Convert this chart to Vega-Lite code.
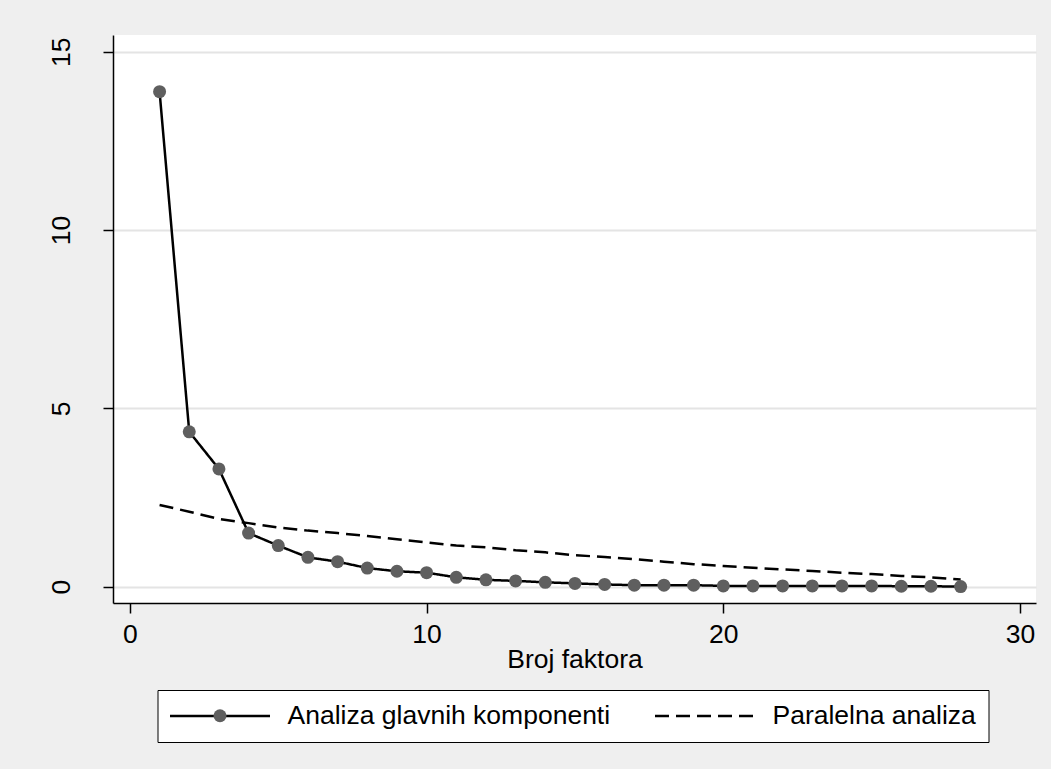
{
  "$schema": "https://vega.github.io/schema/vega-lite/v6.json",
  "width": 923,
  "height": 568,
  "autosize": {"type": "none"},
  "padding": {"left": 113, "top": 35, "right": 15, "bottom": 166},
  "background": "#efefef",
  "config": {
    "view": {"fill": "white", "stroke": null},
    "font": "Liberation Sans"
  },
  "data": {
    "values": [
      {"k": 1, "value": 13.88, "series": "Analiza glavnih komponenti"},
      {"k": 2, "value": 4.34, "series": "Analiza glavnih komponenti"},
      {"k": 3, "value": 3.30, "series": "Analiza glavnih komponenti"},
      {"k": 4, "value": 1.50, "series": "Analiza glavnih komponenti"},
      {"k": 5, "value": 1.15, "series": "Analiza glavnih komponenti"},
      {"k": 6, "value": 0.82, "series": "Analiza glavnih komponenti"},
      {"k": 7, "value": 0.70, "series": "Analiza glavnih komponenti"},
      {"k": 8, "value": 0.52, "series": "Analiza glavnih komponenti"},
      {"k": 9, "value": 0.43, "series": "Analiza glavnih komponenti"},
      {"k": 10, "value": 0.39, "series": "Analiza glavnih komponenti"},
      {"k": 11, "value": 0.26, "series": "Analiza glavnih komponenti"},
      {"k": 12, "value": 0.19, "series": "Analiza glavnih komponenti"},
      {"k": 13, "value": 0.16, "series": "Analiza glavnih komponenti"},
      {"k": 14, "value": 0.12, "series": "Analiza glavnih komponenti"},
      {"k": 15, "value": 0.09, "series": "Analiza glavnih komponenti"},
      {"k": 16, "value": 0.06, "series": "Analiza glavnih komponenti"},
      {"k": 17, "value": 0.04, "series": "Analiza glavnih komponenti"},
      {"k": 18, "value": 0.04, "series": "Analiza glavnih komponenti"},
      {"k": 19, "value": 0.04, "series": "Analiza glavnih komponenti"},
      {"k": 20, "value": 0.02, "series": "Analiza glavnih komponenti"},
      {"k": 21, "value": 0.02, "series": "Analiza glavnih komponenti"},
      {"k": 22, "value": 0.02, "series": "Analiza glavnih komponenti"},
      {"k": 23, "value": 0.02, "series": "Analiza glavnih komponenti"},
      {"k": 24, "value": 0.02, "series": "Analiza glavnih komponenti"},
      {"k": 25, "value": 0.02, "series": "Analiza glavnih komponenti"},
      {"k": 26, "value": 0.01, "series": "Analiza glavnih komponenti"},
      {"k": 27, "value": 0.01, "series": "Analiza glavnih komponenti"},
      {"k": 28, "value": 0.0, "series": "Analiza glavnih komponenti"},
      {"k": 1, "value": 2.29, "series": "Paralelna analiza"},
      {"k": 2, "value": 2.10, "series": "Paralelna analiza"},
      {"k": 3, "value": 1.90, "series": "Paralelna analiza"},
      {"k": 4, "value": 1.78, "series": "Paralelna analiza"},
      {"k": 5, "value": 1.66, "series": "Paralelna analiza"},
      {"k": 6, "value": 1.57, "series": "Paralelna analiza"},
      {"k": 7, "value": 1.50, "series": "Paralelna analiza"},
      {"k": 8, "value": 1.42, "series": "Paralelna analiza"},
      {"k": 9, "value": 1.33, "series": "Paralelna analiza"},
      {"k": 10, "value": 1.24, "series": "Paralelna analiza"},
      {"k": 11, "value": 1.15, "series": "Paralelna analiza"},
      {"k": 12, "value": 1.10, "series": "Paralelna analiza"},
      {"k": 13, "value": 1.02, "series": "Paralelna analiza"},
      {"k": 14, "value": 0.96, "series": "Paralelna analiza"},
      {"k": 15, "value": 0.88, "series": "Paralelna analiza"},
      {"k": 16, "value": 0.83, "series": "Paralelna analiza"},
      {"k": 17, "value": 0.77, "series": "Paralelna analiza"},
      {"k": 18, "value": 0.70, "series": "Paralelna analiza"},
      {"k": 19, "value": 0.63, "series": "Paralelna analiza"},
      {"k": 20, "value": 0.58, "series": "Paralelna analiza"},
      {"k": 21, "value": 0.53, "series": "Paralelna analiza"},
      {"k": 22, "value": 0.48, "series": "Paralelna analiza"},
      {"k": 23, "value": 0.44, "series": "Paralelna analiza"},
      {"k": 24, "value": 0.39, "series": "Paralelna analiza"},
      {"k": 25, "value": 0.35, "series": "Paralelna analiza"},
      {"k": 26, "value": 0.30, "series": "Paralelna analiza"},
      {"k": 27, "value": 0.26, "series": "Paralelna analiza"},
      {"k": 28, "value": 0.20, "series": "Paralelna analiza"}
    ]
  },
  "encoding": {
    "x": {
      "field": "k", "type": "quantitative",
      "scale": {"domain": [-0.57, 30.54], "nice": false, "zero": false},
      "axis": {
        "values": [0, 10, 20, 30], "grid": false,
        "domainColor": "black", "domainWidth": 1.5,
        "tickColor": "black", "tickWidth": 1.5, "tickSize": 10,
        "labelFontSize": 26.5, "labelColor": "black", "labelPadding": 8,
        "labelFlush": false, "labelOverlap": false,
        "title": "Broj faktora", "titleFontSize": 26.5, "titleFontWeight": "normal",
        "titleColor": "black", "titleBaseline": "alphabetic", "titleY": 64
      }
    },
    "y": {
      "field": "value", "type": "quantitative",
      "scale": {"domain": [-0.46, 15.47], "nice": false, "zero": false},
      "axis": {
        "values": [0, 5, 10, 15], "grid": true, "gridColor": "#e4e4e4", "gridWidth": 2,
        "domainColor": "black", "domainWidth": 1.5,
        "tickColor": "black", "tickWidth": 1.5, "tickSize": 10,
        "labelFontSize": 26.5, "labelColor": "black",
        "labelAngle": -90, "labelAlign": "center", "labelBaseline": "alphabetic",
        "labelPadding": 34, "labelFlush": false, "labelOverlap": false,
        "title": null
      }
    }
  },
  "layer": [
    {
      "mark": {"type": "line", "color": "black", "strokeWidth": 2.5},
      "encoding": {
        "strokeDash": {
          "field": "series", "type": "nominal",
          "scale": {"domain": ["Analiza glavnih komponenti", "Paralelna analiza"], "range": [[1, 0], [14, 7]]},
          "legend": {
            "orient": "none", "legendX": 44.5, "legendY": 655, "direction": "horizontal",
            "title": null, "padding": 12.5, "strokeColor": "black", "fillColor": "white",
            "symbolType": "M-13.25,0H86.75", "symbolSize": 4, "symbolStrokeWidth": 2.5, "symbolStrokeColor": "black",
            "labelFontSize": 26.5, "labelColor": "black", "labelOffset": 91, "labelLimit": 500,
            "columnPadding": 39
          }
        }
      }
    },
    {
      "transform": [{"filter": "datum.series === 'Analiza glavnih komponenti'"}],
      "mark": {"type": "point", "filled": true, "size": 169, "opacity": 1, "strokeWidth": 0},
      "encoding": {
        "color": {
          "field": "series", "type": "nominal",
          "scale": {"domain": ["Analiza glavnih komponenti"], "range": ["#5f5f5f"]},
          "legend": {
            "orient": "none", "legendX": 81.25, "legendY": 655, "title": null, "padding": 12.5,
            "symbolType": "circle", "symbolSize": 169, "symbolStrokeWidth": 0, "symbolOpacity": 1,
            "labelFontSize": 26.5, "labelExpr": "''", "labelOffset": 17.5
          }
        }
      }
    }
  ]
}
